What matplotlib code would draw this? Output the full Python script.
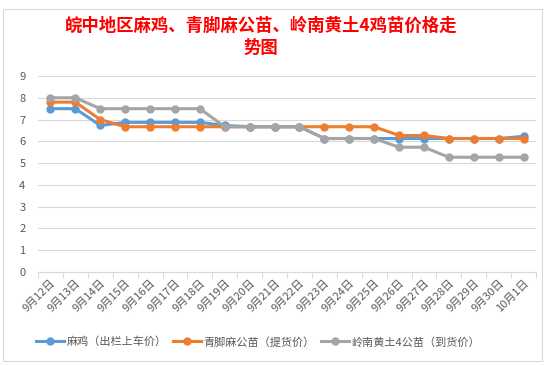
import numpy as np
import matplotlib.pyplot as plt
from matplotlib.patches import Rectangle

plt.rcParams['font.family'] = ['Noto Sans CJK SC', 'DejaVu Sans']

# 数据
dates = ['9月12日', '9月13日', '9月14日', '9月15日', '9月16日', '9月17日', '9月18日',
         '9月19日', '9月20日', '9月21日', '9月22日', '9月23日', '9月24日', '9月25日',
         '9月26日', '9月27日', '9月28日', '9月29日', '9月30日', '10月1日']
maji = [7.5, 7.5, 6.73, 6.87, 6.87, 6.87, 6.87, 6.73, 6.67, 6.67, 6.67,
        6.13, 6.13, 6.13, 6.13, 6.13, 6.13, 6.13, 6.13, 6.23]
qingjiao = [7.8, 7.8, 7.0, 6.67, 6.67, 6.67, 6.67, 6.67, 6.67, 6.67, 6.67,
            6.67, 6.67, 6.67, 6.27, 6.27, 6.13, 6.13, 6.13, 6.13]
lingnan = [8.0, 8.0, 7.5, 7.5, 7.5, 7.5, 7.5, 6.67, 6.67, 6.67, 6.67,
           6.13, 6.13, 6.13, 5.73, 5.73, 5.27, 5.27, 5.27, 5.27]
names = ['麻鸡（出栏上车价）', '青脚麻公苗（提货价）', '岭南黄土4公苗（到货价）']
colors = ['#5B9BD5', '#ED7D31', '#A5A5A5']

fig = plt.figure(figsize=(5.54, 3.65), dpi=100)
fig.patches.append(Rectangle((0.006, 0.012), 0.972, 0.962, transform=fig.transFigure,
                             fill=False, edgecolor='#D9D9D9', linewidth=0.8))

# 绘图区
ax = fig.add_axes([38 / 554, 1 - 272 / 365, 498 / 554, 196 / 365])
x = np.arange(len(dates))
for vals, name, c in zip([maji, qingjiao, lingnan], names, colors):
    ax.plot(x, vals, color=c, linewidth=2.2, marker='o', markersize=5, label=name)

ax.set_xlim(-0.5, len(dates) - 0.5)
ax.set_ylim(0, 9)
ax.set_yticks(range(10))
ax.grid(axis='y', color='#D9D9D9', linewidth=0.8)
ax.set_axisbelow(True)
for s in ['top', 'right', 'left']:
    ax.spines[s].set_visible(False)
ax.spines['bottom'].set_color('#D9D9D9')

ax.set_xticks(np.arange(-0.5, len(dates), 1))
ax.set_xticklabels([])
ax.tick_params(axis='x', which='major', length=4, color='#D9D9D9')
ax.set_xticks(x, minor=True)
ax.set_xticklabels(dates, minor=True, rotation=45, ha='right', va='top',
                   rotation_mode='anchor', fontsize=8, color='#595959')
ax.tick_params(axis='x', which='minor', length=0, pad=4)
ax.tick_params(axis='y', length=0, labelsize=8, labelcolor='#595959', pad=9)

fig.text(261 / 554, 1 - 37 / 365, '皖中地区麻鸡、青脚麻公苗、岭南黄土4鸡苗价格走\n势图', ha='center', va='center',
         fontsize=12.5, fontweight='bold', color='red', linespacing=1.25)
fig.legend(loc='center', bbox_to_anchor=(258 / 554, 1 - 342 / 365), ncol=3, frameon=False,
           fontsize=8, labelcolor='#595959', handlelength=2.5, columnspacing=0.6,
           handletextpad=0.2)

fig.savefig('out.png', dpi=100, facecolor='white')
